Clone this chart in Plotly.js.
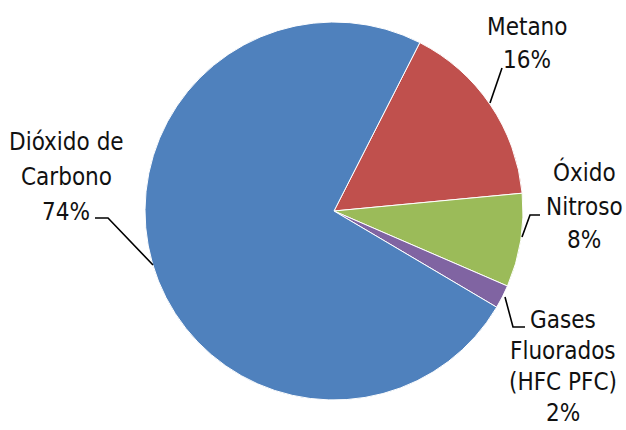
<!DOCTYPE html>
<html>
<head>
<meta charset="utf-8">
<script src="https://cdn.plot.ly/plotly-3.0.1.min.js"></script>
<style>html,body{margin:0;padding:0;background:#fff;}</style>
</head>
<body>
<div id="chart" style="width:626px;height:430px;"></div>
<script>
// Data
const categories = ["Metano", "Óxido Nitroso", "Gases Fluorados (HFC PFC)", "Dióxido de Carbono"];
const shares = [16, 8, 2, 74];
const labelLines = [
  ["Metano", "16%"],
  ["Óxido", "Nitroso", "8%"],
  ["Gases", "Fluorados", "(HFC PFC)", "2%"],
  ["Dióxido de", "Carbono", "74%"]
];

// Styling / positions (pixels)
const colors = ["#C0504D", "#9BBB59", "#8064A2", "#4F81BD"];
const L = 145, T = 22, S = 378;
const px = x => (x - L) / S;
const py = y => (T + S - y) / S;
const labelPos = [
  {x: 527, baselines: [35, 68]},
  {x: 584, baselines: [180, 215, 248]},
  {x: 563, baselines: [328, 359, 390, 421]},
  {x: 66, baselines: [150, 185, 220]}
];
const leaders = [
  [[502, 68], [490, 103]],
  [[540, 215], [530, 215], [522, 237]],
  [[505, 297], [513, 327], [525, 327]],
  [[95, 218], [108, 218], [153, 265]]
];

const font = "'DejaVu Sans Condensed', 'Liberation Sans Narrow', 'DejaVu Sans', sans-serif";

const annotations = [];
labelLines.forEach((lines, i) => {
  lines.forEach((t, j) => {
    annotations.push({
      text: t, showarrow: false, xref: 'paper', yref: 'paper',
      x: px(labelPos[i].x), y: py(labelPos[i].baselines[j] - 8),
      xanchor: 'center', yanchor: 'middle',
      font: {family: font, size: 24, color: '#111'}
    });
  });
});

const shapes = leaders.map(pts => ({
  type: 'path', xref: 'paper', yref: 'paper',
  path: pts.map((p, k) => (k ? 'L' : 'M') + px(p[0]) + ',' + py(p[1])).join(' '),
  line: {color: '#000', width: 1.6}
}));

const data = [{
  type: 'pie',
  labels: categories,
  values: shares,
  sort: false,
  direction: 'clockwise',
  rotation: 27,
  textinfo: 'none',
  hoverinfo: 'label+percent',
  marker: {colors: colors, line: {color: '#ffffff', width: 1}},
  showlegend: false
}];

const layout = {
  width: 626, height: 430,
  margin: {l: L, r: 626 - L - S, t: T, b: 430 - T - S, pad: 0},
  paper_bgcolor: '#fff',
  plot_bgcolor: '#fff',
  showlegend: false,
  annotations: annotations,
  shapes: shapes
};

Plotly.newPlot('chart', data, layout, {displayModeBar: false, staticPlot: true});
</script>
</body>
</html>
